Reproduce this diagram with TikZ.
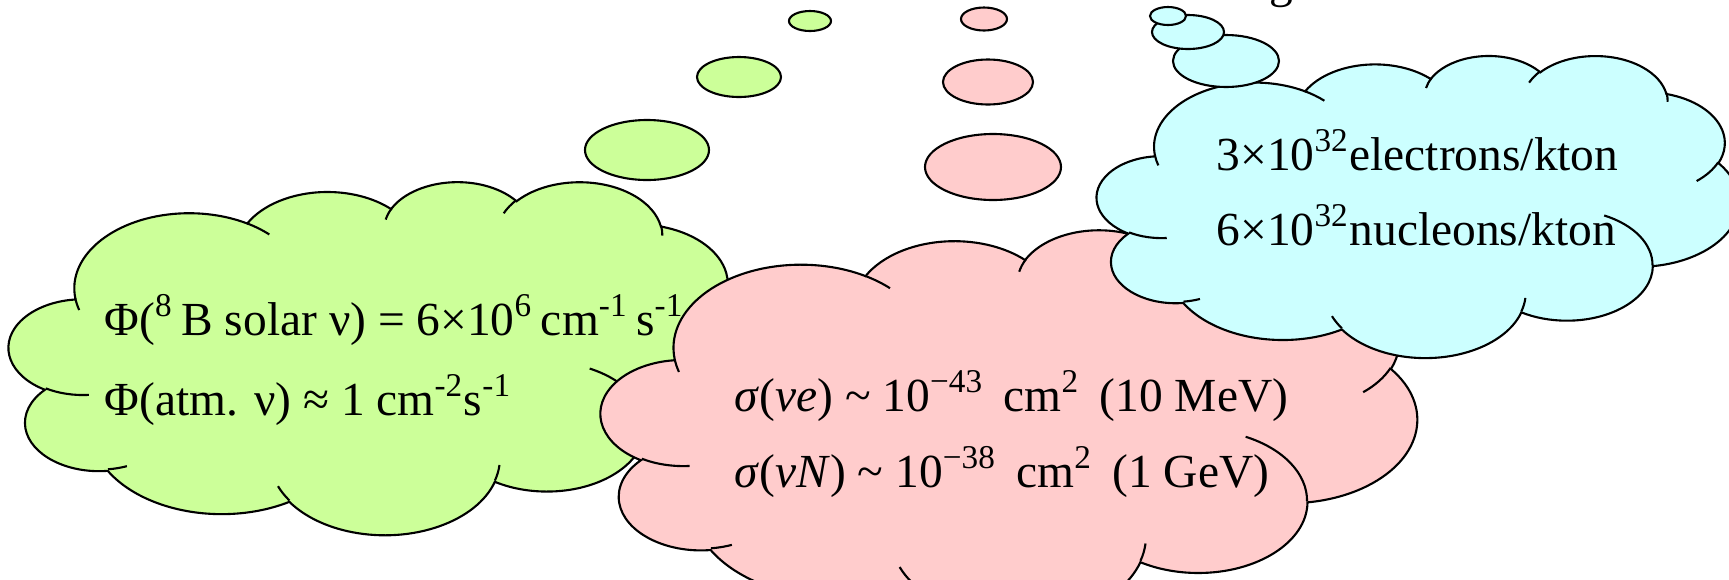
\documentclass[tikz,border=0pt]{standalone}
\usepackage{fontspec}
\setmainfont{Liberation Serif}
\definecolor{cloudgreen}{RGB}{204,255,153}
\definecolor{cloudpink}{RGB}{255,204,204}
\definecolor{cloudcyan}{RGB}{204,255,255}

% puffs of the cloud outline on a 432 x 432 grid: x radius/y radius/start/sweep
\newcommand\cloudpuffs{67.53/91.90/-190.4875/123.7805, 53.33/72.67/-144.1024/89.9452,
  43.65/59.45/-145.8079/99.7230, 48.57/65.95/-130.9861/117.2417,
  53.33/72.73/-78.7089/109.0269, 67.75/92.20/-46.2673/130.2690,
  57.85/78.67/0.6250/114.0333, 67.52/92.15/22.4516/115.1726,
  77.20/105.43/66.2426/75.7110, 43.60/59.18/-274.9421/146.7356,
  43.45/59.45/-246.8285/152.5189}
% creases inside the cloud: start point/x radius/y radius/start/sweep
\newcommand\cloudcreases{46.93/261.77/43.45/59.45/86.7420/26.4295,
  69.28/348.99/43.60/59.18/73.6105/11.4475,
  164.78/390.90/67.52/92.15/137.6242/14.0811,
  288.27/347.51/67.52/92.15/6.4533/15.9984,
  341.29/229.54/57.85/78.67/-70.2924/70.9174,
  417.98/153.54/53.33/72.73/30.3180/27.7515,
  383.24/54.26/48.57/65.95/-13.7443/14.8589,
  290.78/39.52/48.57/65.95/-149.1815/18.1954,
  221.41/47.20/43.65/59.45/-163.4943/17.8495,
  140.00/51.92/67.53/91.90/-66.7070/12.3194,
  41.27/157.89/67.53/91.90/157.6544/11.8582}

% \thoughtcloud{fill}{left}{top}{width}{height}
\newcommand\thoughtcloud[5]{%
  \begin{scope}[shift={(#2,#3)},xscale=#4/432,yscale=#5/432]
    \path[bubble,fill=#1] (39,143.7)
      \foreach \rw/\rh/\st/\sw [evaluate=\st as \ta using {visang(\st,\rw,\rh)},
          evaluate=\sw as \tb using {visang(\st+\sw,\rw,\rh)}] in \cloudpuffs
        { arc[x radius=\rw,y radius=\rh,start angle=\ta,end angle=\tb] } -- cycle;
    \path[bubble]
      \foreach \mx/\my/\rw/\rh/\st/\sw [evaluate=\st as \ta using {visang(\st,\rw,\rh)},
          evaluate=\sw as \tb using {visang(\st+\sw,\rw,\rh)}] in \cloudcreases
        { (\mx,\my) arc[x radius=\rw,y radius=\rh,start angle=\ta,end angle=\tb] };
  \end{scope}}

\tikzset{
  bubble/.style={draw=black,line width=0.6pt},
  txtline/.style={inner sep=0pt,anchor=base west,font=\fontsize{13.5}{16}\selectfont},
}

\begin{document}
\begin{tikzpicture}[x=0.1mm,y=-0.1mm,
  declare function={visang(\vv,\ww,\hh)=atan2(\ww*sin(\vv),\hh*cos(\vv))
    +360*round((\vv-atan2(\ww*sin(\vv),\hh*cos(\vv)))/360);}]
\useasboundingbox (0,0) rectangle (1729,579);

\node[txtline,anchor=base] (title) at (1281,-3) {g};

% solar and atmospheric flux
\thoughtcloud{cloudgreen}{9}{181}{735}{353}
\draw[bubble,fill=cloudgreen] (647,150) ellipse[x radius=62,y radius=30];
\draw[bubble,fill=cloudgreen] (739,77) ellipse[x radius=42,y radius=20];
\draw[bubble,fill=cloudgreen] (810,21) ellipse[x radius=21,y radius=10];
\node[txtline] (flux1) at (104,335)
  {Φ(\textsuperscript{8}\,B solar ν) = 6×10\textsuperscript{6}\,cm\textsuperscript{-1}\,s\textsuperscript{-1}};
\node[txtline] (flux2) at (104,415) {Φ(atm. ν) ≈ 1 cm\textsuperscript{-2}s\textsuperscript{-1}};

% cross sections
\thoughtcloud{cloudpink}{601}{229}{816}{391}
\draw[bubble,fill=cloudpink] (993,167) ellipse[x radius=68,y radius=33];
\draw[bubble,fill=cloudpink] (988,82) ellipse[x radius=45,y radius=22.5];
\draw[bubble,fill=cloudpink] (984,19) ellipse[x radius=23,y radius=11.5];
\node[txtline] (xsec1) at (734,411)
  {\textit{σ}(\textit{νe}) \textasciitilde{} 10\textsuperscript{−43}\ \,cm\textsuperscript{2}\ \,(10 MeV)};
\node[txtline] (xsec2) at (734,487)
  {\textit{σ}(\textit{νN}) \textasciitilde{} 10\textsuperscript{−38}\ \,cm\textsuperscript{2}\ \,(1 GeV)};

% targets per kiloton
\thoughtcloud{cloudcyan}{1097}{55}{642}{302}
\draw[bubble,fill=cloudcyan] (1226,61) ellipse[x radius=53,y radius=26];
\draw[bubble,fill=cloudcyan] (1188,32) ellipse[x radius=36,y radius=17];
\draw[bubble,fill=cloudcyan] (1168,16) ellipse[x radius=18,y radius=9];
\node[txtline] (targ1) at (1216,170) {3×10\textsuperscript{32}electrons/kton};
\node[txtline] (targ2) at (1216,245) {6×10\textsuperscript{32}nucleons/kton};
\end{tikzpicture}
\end{document}
